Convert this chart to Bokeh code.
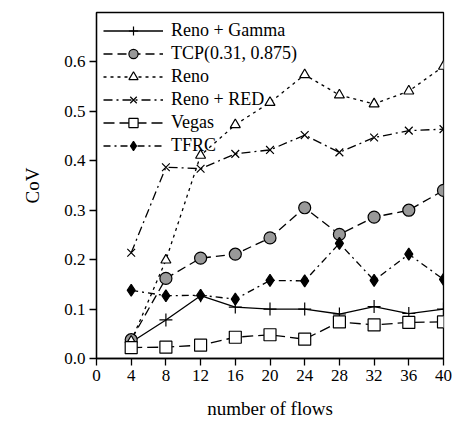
from bokeh.plotting import figure
from bokeh.models import Range1d, FixedTicker, Legend, LegendItem, CustomJSTickFormatter
from bokeh.embed import file_html
from bokeh.resources import INLINE

flows = [4, 8, 12, 16, 20, 24, 28, 32, 36, 40]
reno_gamma = [0.033, 0.078, 0.127, 0.104, 0.100, 0.100, 0.090, 0.105, 0.091, 0.100]
tcp = [0.038, 0.162, 0.203, 0.211, 0.244, 0.305, 0.251, 0.286, 0.300, 0.340]
reno = [0.035, 0.199, 0.411, 0.473, 0.518, 0.574, 0.533, 0.515, 0.541, 0.591]
reno_red = [0.214, 0.387, 0.384, 0.414, 0.422, 0.452, 0.417, 0.447, 0.461, 0.464]
vegas = [0.022, 0.023, 0.027, 0.043, 0.048, 0.039, 0.074, 0.068, 0.073, 0.074]
tfrc = [0.138, 0.127, 0.128, 0.120, 0.158, 0.157, 0.233, 0.158, 0.211, 0.160]
labels = ["Reno + Gamma", "TCP(0.31, 0.875)", "Reno", "Reno + RED", "Vegas", "TFRC"]
x_ticks = list(range(0, 41, 4))
y_ticks = [0.0, 0.1, 0.2, 0.3, 0.4, 0.5, 0.6]

FONT = "Liberation Serif"

p = figure(width=453, height=426, output_backend="svg", toolbar_location=None,
           x_range=Range1d(0, 40), y_range=Range1d(0, 0.70))
p.min_border_left = 96
p.min_border_right = 10
p.min_border_top = 12
p.min_border_bottom = 68
p.grid.visible = False
p.outline_line_color = "black"
p.outline_line_width = 1.3
p.background_fill_color = "white"
p.border_fill_color = "white"

for ax in (p.xaxis[0], p.yaxis[0]):
    ax.major_tick_in = 0
    ax.major_tick_out = 7
    ax.minor_tick_line_color = None
    ax.axis_line_color = "black"
    ax.axis_line_width = 1.3
    ax.major_tick_line_width = 1.3
    ax.major_label_text_font = FONT
    ax.major_label_text_font_style = "normal"
    ax.major_label_text_font_size = "17px"
    ax.major_label_text_color = "black"
    ax.axis_label_text_font = FONT
    ax.axis_label_text_font_size = "19px"
    ax.axis_label_text_font_style = "normal"
    ax.axis_label_text_color = "black"

p.xaxis.ticker = FixedTicker(ticks=x_ticks)
p.yaxis.ticker = FixedTicker(ticks=y_ticks)
p.yaxis.formatter = CustomJSTickFormatter(code="return tick.toFixed(1);")
p.xaxis.axis_label = "number of flows"
p.yaxis.axis_label = "CoV"
p.xaxis.axis_label_standoff = 14
p.yaxis.axis_label_standoff = 18
p.xaxis.major_label_standoff = 4
p.yaxis.major_label_standoff = 4

series = [
    (reno_gamma, None, "cross", "black", 13),
    (tcp, "9 5", "circle", "#999999", 12),
    (reno, "3 4", "triangle", "white", 10),
    (reno_red, "9 4 2 4", "x", "black", 11),
    (vegas, "11 5", "square", "white", 12),
    (tfrc, "7 4 2 4", "diamond", "black", 12),
]

items = []
for (vals, dash, marker, fill, size), lab in zip(series, labels):
    kw = {}
    if dash:
        kw["line_dash"] = dash
    ln = p.line(flows, vals, line_color="black", line_width=1.3, **kw)
    sc = p.scatter(flows, vals, marker=marker, size=size, fill_color=fill,
                   line_color="black", line_width=1.2)
    items.append(LegendItem(label=lab, renderers=[ln, sc]))

legend = Legend(items=items, location="top_left")
legend.border_line_color = None
legend.background_fill_alpha = 0
legend.label_text_font = FONT
legend.label_text_font_style = "normal"
legend.label_text_font_size = "18px"
legend.label_text_color = "black"
legend.glyph_width = 60
legend.glyph_height = 23
legend.label_height = 23
legend.spacing = 0
legend.margin = 7
legend.padding = 2
legend.label_standoff = 8
p.add_layout(legend)

open("out.html", "w").write(file_html(p, INLINE))
